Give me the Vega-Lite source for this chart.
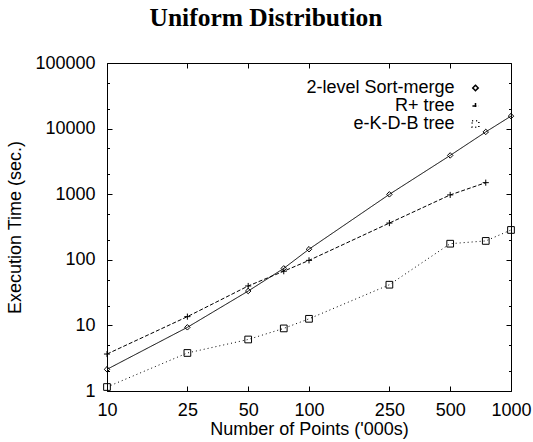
{
  "$schema": "https://vega.github.io/schema/vega-lite/v6.json",
  "width": 404,
  "height": 328,
  "autosize": "none",
  "padding": {"left": 107, "top": 63, "right": 22, "bottom": 51},
  "background": "white",
  "title": {"text": "Uniform Distribution", "font": "Liberation Serif", "fontSize": 25.5, "fontWeight": "bold", "color": "black", "anchor": "middle", "frame": "group", "dx": -43, "offset": 23},
  "config": {
    "view": {"stroke": "black", "strokeWidth": 1},
    "font": "Liberation Sans",
    "axis": {"grid": false, "domain": false, "labelFont": "Liberation Sans", "labelFontSize": 18, "labelColor": "black", "titleFont": "Liberation Sans", "titleFontSize": 18, "titleFontWeight": "normal", "titleColor": "black", "tickColor": "black", "tickWidth": 1, "labelFlush": false, "labelOverlap": false}
  },
  "data": {"values": [
    {"n": 10, "t": 2.14, "s": "2-level Sort-merge"},
    {"n": 25, "t": 9.35, "s": "2-level Sort-merge"},
    {"n": 50, "t": 33.4, "s": "2-level Sort-merge"},
    {"n": 75, "t": 74, "s": "2-level Sort-merge"},
    {"n": 100, "t": 145, "s": "2-level Sort-merge"},
    {"n": 250, "t": 995, "s": "2-level Sort-merge"},
    {"n": 500, "t": 3900, "s": "2-level Sort-merge"},
    {"n": 750, "t": 8900, "s": "2-level Sort-merge"},
    {"n": 1000, "t": 15500, "s": "2-level Sort-merge"},
    {"n": 10, "t": 3.66, "s": "R+ tree"},
    {"n": 25, "t": 13.6, "s": "R+ tree"},
    {"n": 50, "t": 39.9, "s": "R+ tree"},
    {"n": 75, "t": 67, "s": "R+ tree"},
    {"n": 100, "t": 98, "s": "R+ tree"},
    {"n": 250, "t": 363, "s": "R+ tree"},
    {"n": 500, "t": 975, "s": "R+ tree"},
    {"n": 750, "t": 1500, "s": "R+ tree"},
    {"n": 10, "t": 1.15, "s": "e-K-D-B tree"},
    {"n": 25, "t": 3.8, "s": "e-K-D-B tree"},
    {"n": 50, "t": 6.1, "s": "e-K-D-B tree"},
    {"n": 75, "t": 9.0, "s": "e-K-D-B tree"},
    {"n": 100, "t": 12.6, "s": "e-K-D-B tree"},
    {"n": 250, "t": 41.7, "s": "e-K-D-B tree"},
    {"n": 500, "t": 176, "s": "e-K-D-B tree"},
    {"n": 750, "t": 194, "s": "e-K-D-B tree"},
    {"n": 1000, "t": 285, "s": "e-K-D-B tree"}
  ]},
  "layer": [
    {
      "mark": {"type": "line", "stroke": "black", "strokeWidth": 1},
      "encoding": {
        "x": {"field": "n", "type": "quantitative", "scale": {"type": "log", "domain": [10, 1000]},
              "axis": {"orient": "bottom", "values": [10, 25, 50, 100, 250, 500, 1000], "format": "d", "tickSize": -5, "labelPadding": 15.7, "title": "Number of Points ('000s)", "titlePadding": 1}},
        "y": {"field": "t", "type": "quantitative", "scale": {"type": "log", "domain": [1, 100000]},
              "axis": {"orient": "left", "values": [1, 2, 5, 10, 20, 50, 100, 200, 500, 1000, 2000, 5000, 10000, 20000, 50000, 100000], "format": "d",
                       "labelExpr": "indexof([1,10,100,1000,10000,100000], datum.value) >= 0 ? datum.label : ''",
                       "tickSize": {"condition": {"test": "indexof([1,10,100,1000,10000,100000], datum.value) >= 0", "value": -5}, "value": -2.5},
                       "labelPadding": 17, "title": "Execution Time (sec.)", "titlePadding": 10}},
        "strokeDash": {"field": "s", "type": "nominal",
                       "scale": {"domain": ["2-level Sort-merge", "R+ tree", "e-K-D-B tree"], "range": [[1, 0], [4, 2], [1, 3]]},
                       "legend": {"title": null, "orient": "none", "legendX": 321, "legendY": 16, "labelAlign": "right", "labelOffset": -30, "labelFont": "Liberation Sans", "labelFontSize": 18, "labelColor": "black", "labelLimit": 0, "symbolSize": 100, "symbolOffset": 38.5, "rowPadding": 0, "padding": 0,
                                  "encode": {"symbols": {
                                    "stroke": {"value": "black"}, "fill": {"value": "transparent"}, "strokeWidth": {"value": 1}, "opacity": {"value": 1}}}}}
      }
    },
    {
      "mark": {"type": "point", "filled": false, "stroke": "black", "strokeWidth": 1, "opacity": 1},
      "encoding": {
        "x": {"field": "n", "type": "quantitative", "scale": {"type": "log", "domain": [10, 1000]},
              "axis": {"orient": "top", "values": [10, 25, 50, 100, 250, 500, 1000], "tickSize": -5, "labels": false, "title": null}},
        "y": {"field": "t", "type": "quantitative", "scale": {"type": "log", "domain": [1, 100000]},
              "axis": {"orient": "right", "values": [1, 2, 5, 10, 20, 50, 100, 200, 500, 1000, 2000, 5000, 10000, 20000, 50000, 100000],
                       "tickSize": {"condition": {"test": "indexof([1,10,100,1000,10000,100000], datum.value) >= 0", "value": -5}, "value": -2.5},
                       "labels": false, "title": null}},
        "shape": {"field": "s", "type": "nominal",
                  "scale": {"domain": ["2-level Sort-merge", "R+ tree", "e-K-D-B tree"], "range": ["diamond", "M-1,0H1M0,-1V1", "square"]},
                  "legend": {"title": null, "orient": "none", "legendX": 321, "legendY": 16, "labelAlign": "right", "labelOffset": -30, "labelFont": "Liberation Sans", "labelFontSize": 18, "labelColor": "black", "labelLimit": 0, "symbolSize": 100, "symbolOffset": 38.5, "rowPadding": 0, "padding": 0,
                                  "encode": {"symbols": {
                                    "stroke": {"value": "black"}, "fill": {"value": "transparent"}, "strokeWidth": {"value": 1}, "opacity": {"value": 1}}}}},
        "size": {"field": "s", "type": "nominal", "legend": null,
                 "scale": {"domain": ["2-level Sort-merge", "R+ tree", "e-K-D-B tree"], "range": [30, 45, 36]}}
      }
    }
  ],
  "resolve": {"axis": {"x": "independent", "y": "independent"}}
}
